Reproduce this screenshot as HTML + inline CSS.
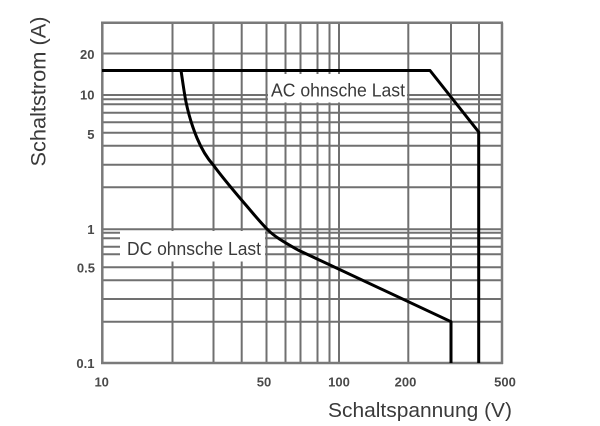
<!DOCTYPE html>
<html>
<head>
<meta charset="utf-8">
<style>
  html, body { margin: 0; padding: 0; background: #fff; }
  svg { display: block; }
  text { font-family: "Liberation Sans", sans-serif; }
</style>
</head>
<body>
<svg width="600" height="426" viewBox="0 0 600 426" xmlns="http://www.w3.org/2000/svg">
  <rect width="600" height="426" fill="#fff"/>

  <!-- vertical gridlines -->
  <g stroke="#707070" stroke-width="2" fill="none">
    <line x1="172.5" y1="22.7" x2="172.5" y2="363"/>
    <line x1="213.5" y1="22.7" x2="213.5" y2="363"/>
    <line x1="241.7" y1="22.7" x2="241.7" y2="363"/>
    <line x1="266.5" y1="22.7" x2="266.5" y2="363"/>
    <line x1="285.5" y1="22.7" x2="285.5" y2="363"/>
    <line x1="300.5" y1="22.7" x2="300.5" y2="363"/>
    <line x1="317.5" y1="22.7" x2="317.5" y2="363"/>
    <line x1="329.5" y1="22.7" x2="329.5" y2="363"/>
    <line x1="339" y1="22.7" x2="339" y2="363"/>
    <line x1="408.3" y1="22.7" x2="408.3" y2="363"/>
    <line x1="451" y1="22.7" x2="451" y2="363"/>
    <line x1="479" y1="22.7" x2="479" y2="363"/>
  </g>
  <!-- horizontal gridlines -->
  <g stroke="#707070" stroke-width="2" fill="none">
    <line x1="102" y1="53.5" x2="502" y2="53.5"/>
    <line x1="102" y1="95" x2="502" y2="95"/>
    <line x1="102" y1="99.3" x2="502" y2="99.3"/>
    <line x1="102" y1="104.3" x2="502" y2="104.3"/>
    <line x1="102" y1="112.7" x2="502" y2="112.7"/>
    <line x1="102" y1="122.3" x2="502" y2="122.3"/>
    <line x1="102" y1="132.7" x2="502" y2="132.7"/>
    <line x1="102" y1="145.7" x2="502" y2="145.7"/>
    <line x1="102" y1="164.7" x2="502" y2="164.7"/>
    <line x1="102" y1="187.3" x2="502" y2="187.3"/>
    <line x1="102" y1="229.3" x2="502" y2="229.3"/>
    <line x1="102" y1="232.7" x2="502" y2="232.7"/>
    <line x1="102" y1="238.3" x2="502" y2="238.3"/>
    <line x1="102" y1="246.7" x2="502" y2="246.7"/>
    <line x1="102" y1="254.3" x2="502" y2="254.3"/>
    <line x1="102" y1="267.3" x2="502" y2="267.3"/>
    <line x1="102" y1="280.3" x2="502" y2="280.3"/>
    <line x1="102" y1="299" x2="502" y2="299"/>
    <line x1="102" y1="321.7" x2="502" y2="321.7"/>
  </g>
  <!-- frame -->
  <g stroke="#7a7a7a" stroke-width="2.5" fill="none">
    <line x1="102.3" y1="22.7" x2="102.3" y2="364"/>
    <line x1="502" y1="22.7" x2="502" y2="364"/>
    <line x1="101" y1="22.7" x2="503" y2="22.7"/>
    <line x1="101" y1="363" x2="503" y2="363"/>
  </g>

  <!-- label boxes (white, hiding gridlines) -->
  <rect x="268" y="74" width="139" height="28.5" fill="#fff"/>
  <rect x="120" y="231" width="145" height="30.5" fill="#fff"/>

  <!-- curves -->
  <g stroke="#000" stroke-width="3" fill="none" stroke-linejoin="round">
    <path d="M102,70.5 H430 L478.7,132 V363"/>
    <path d="M181,70.5 C182.5,80 184,92 186,102 C188.5,114 192,126 197,138 C202,150 207,158 213.3,165 C222,177 233,190 245,204 C252,212 259,221 268,230 C274,236 282,241 298,250 L451,321.7 V363"/>
  </g>

  <!-- series labels -->
  <text x="271" y="96.7" font-size="18" fill="#3a3a3a" textLength="134" lengthAdjust="spacingAndGlyphs">AC ohnsche Last</text>
  <text x="127" y="255" font-size="18" fill="#3a3a3a" textLength="134" lengthAdjust="spacingAndGlyphs">DC ohnsche Last</text>

  <!-- y tick labels -->
  <g font-size="13" font-weight="bold" fill="#4a4a4a" text-anchor="end">
    <text x="94.5" y="59">20</text>
    <text x="94.5" y="99.5">10</text>
    <text x="94.5" y="139">5</text>
    <text x="94.5" y="234">1</text>
    <text x="95" y="272.5">0.5</text>
    <text x="94.5" y="368">0.1</text>
  </g>
  <!-- x tick labels -->
  <g font-size="13" font-weight="bold" fill="#4a4a4a" text-anchor="middle">
    <text x="101.7" y="386.5">10</text>
    <text x="264" y="386.5">50</text>
    <text x="339" y="386.5">100</text>
    <text x="405.5" y="386.5">200</text>
    <text x="505" y="386.5">500</text>
  </g>

  <!-- axis titles -->
  <text x="328" y="417" font-size="20" fill="#3a3a3a" textLength="184" lengthAdjust="spacingAndGlyphs">Schaltspannung (V)</text>
  <text transform="translate(45.5,166.5) rotate(-90)" x="0" y="0" font-size="21" fill="#3a3a3a" textLength="150" lengthAdjust="spacingAndGlyphs">Schaltstrom (A)</text>
</svg>
</body>
</html>
